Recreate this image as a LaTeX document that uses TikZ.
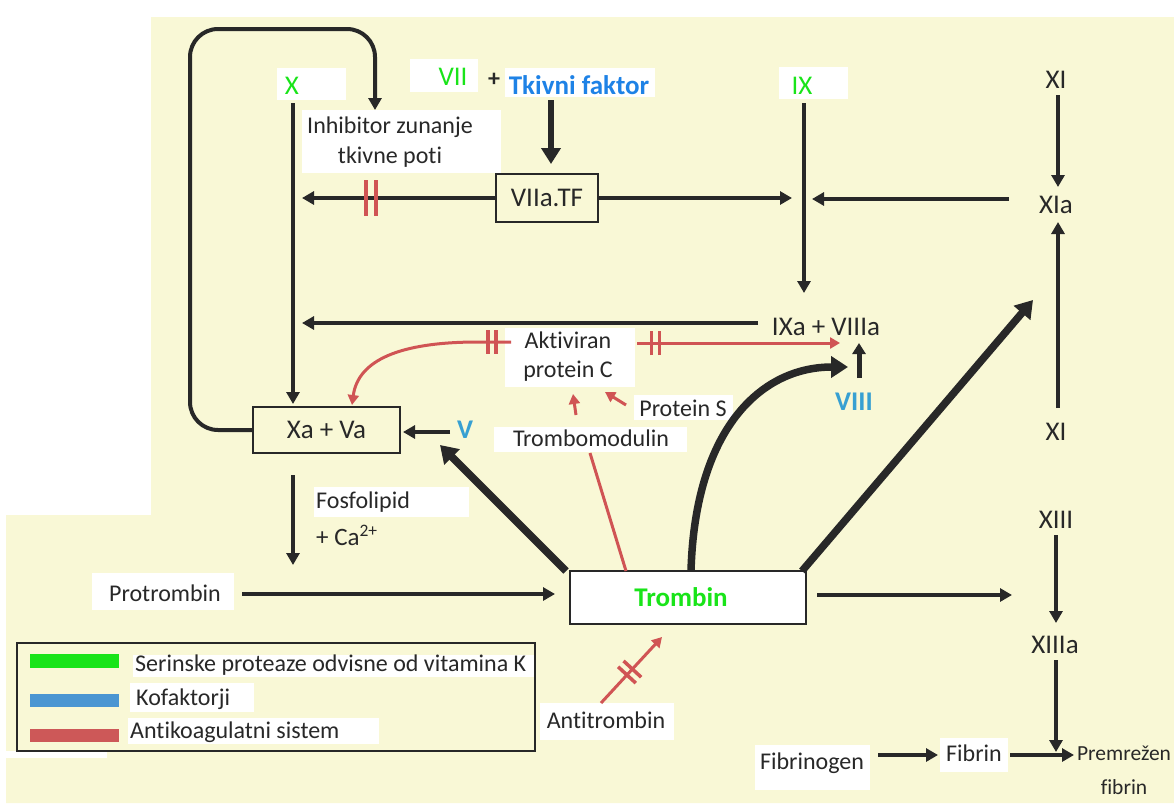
\documentclass[tikz,border=0pt]{standalone}
\usepackage{fontspec}
\setmainfont{Carlito}[Ligatures={NoCommon}]
\usetikzlibrary{arrows.meta,decorations.markings}
\definecolor{bgy}{RGB}{249,248,214}
\definecolor{ink}{RGB}{40,40,40}
\definecolor{vkg}{RGB}{25,228,25}
\definecolor{tfb}{RGB}{30,130,230}
\definecolor{cob}{RGB}{55,160,210}
\definecolor{acr}{RGB}{208,84,84}
\definecolor{legb}{RGB}{75,150,210}
\definecolor{legr}{RGB}{205,88,88}
\begin{document}
\begin{tikzpicture}[x=1pt,y=-1pt,
  every node/.style={inner sep=0pt, text=ink, font=\fontsize{24}{30}\selectfont},
  big/.style={font=\fontsize{27}{32}\selectfont},
  bigb/.style={font=\fontsize{27}{32}\selectfont\bfseries},
  arr/.style={draw=ink, line width=4pt, -{Triangle[length=12pt,width=13pt]}},
  tarr/.style={draw=ink, line width=7.5pt, -{Triangle[length=17pt,width=21pt]}},
  rarr/.style={draw=acr, line width=3pt, -{Triangle[length=10pt,width=11pt]}},
  rline/.style={draw=acr, line width=3pt},
  dbar/.style={postaction={decorate}, decoration={markings, mark=at position #1 with {\draw[-, acr, line width=3.5pt] (-4pt,-12pt) -- (-4pt,12pt) (4pt,-12pt) -- (4pt,12pt);}}},
  dbarL/.style={postaction={decorate}, decoration={markings, mark=at position #1 with {\draw[-, acr, line width=4pt] (-5pt,-18pt) -- (-5pt,18pt) (5pt,-18pt) -- (5pt,18pt);}}},
  fbox/.style={draw=ink, line width=2pt, fill=bgy}
]
\useasboundingbox (0,0) rectangle (1174,803);
% background
\fill[white] (0,0) rectangle (1174,803);
\fill[bgy] (151,17) -- (1174,17) -- (1174,803) -- (6,803) -- (6,515) -- (151,515) -- cycle;
\fill[white] (0,751) rectangle (107,758);
% white label patches
\fill[white] (277,68) rectangle (346,100);
\fill[white] (410,59) rectangle (478,92);
\fill[white] (505,68) rectangle (655,97);
\fill[white] (779,67) rectangle (848,99);
\fill[white] (302,110) rectangle (501,173);
\fill[white] (505,328) rectangle (635,387);
\fill[white] (634,395) rectangle (733,420);
\fill[white] (494,427) rectangle (687,452);
\fill[white] (314,487) rectangle (469,517);
\fill[white] (92,573) rectangle (234,610);
\fill[white] (540,703) rectangle (674,740);
\fill[white] (755,745) rectangle (870,790);
\fill[white] (940,738) rectangle (1008,772);

% boxes
\node[fbox, minimum width=147pt, minimum height=46pt, big] (nXaVa) at (326.5,430) {Xa + Va};
\node[fbox, minimum width=102pt, minimum height=48pt, big] (nVTF) at (547,198) {VIIa.TF};
\node[draw=ink, line width=2pt, fill=white, minimum width=236pt, minimum height=53pt] (nTromb) at (688,597.5) {};
\node[bigb, text=vkg] (nTrombT) at (681,597) {Trombin};

% labels
\node[big, text=vkg] (nX) at (292,86) {X};
\node[big, text=vkg] (nVII) at (453,77) {VII};
\node[font=\fontsize{24}{30}\selectfont\bfseries] (nPlus) at (494,80) {+};
\node[bigb, text=tfb] (nTkf) at (579,85) {Tkivni faktor};
\node[align=center] (nInh) at (390,142) {Inhibitor zunanje\\tkivne poti};
\node[big, text=vkg] (nIX) at (802,86) {IX};
\node[big] (nXI) at (1056,80) {XI};
\node[big] (nXIa) at (1056,205) {XIa};
\node[big] (nXIb) at (1056,432) {XI};
\node[big] (nIXa) at (826,327) {IXa + VIIIa};
\node[bigb, text=cob] (nVIII) at (854,402) {VIII};
\node[align=center, font=\fontsize{24}{29}\selectfont] (nAPC) at (568,357) {Aktiviran\\protein C};
\node (nPS) at (683,408) {Protein S};
\node (nTM) at (591,438) {Trombomodulin};
\node[bigb, text=cob] (nV) at (465,430) {V};
\node[anchor=west] (nFos) at (316,502) {Fosfolipid};
\node[anchor=west, font=\fontsize{25}{30}\selectfont] (nCa) at (316,535) {+ Ca\textsuperscript{2+}};
\node (nProt) at (165,593) {Protrombin};
\node (nAT) at (606,720) {Antitrombin};
\node (nFg) at (812,763) {Fibrinogen};
\node (nFb) at (974,753) {Fibrin};
\node[align=center, font=\fontsize{21.5}{34}\selectfont] (nPF) at (1124,770) {Premrežen\\fibrin};
\node[big] (nXIII) at (1056,520) {XIII};
\node[big] (nXIIIa) at (1055,645) {XIIIa};

% coordinates for free ends
\coordinate (cInh) at (375,110);
\coordinate (cXtop) at (293,103);
\coordinate (cXbot) at (293,404);
\coordinate (cTFtop) at (551,100);
\coordinate (cTFbot) at (551,164);
\coordinate (cL1) at (302,198);
\coordinate (cR1) at (792,198);
\coordinate (cIXtop) at (804,103);
\coordinate (cIXbot) at (804,293);
\coordinate (cXIaL) at (1009,199);
\coordinate (cXIaR) at (812,199);
\coordinate (cIXaL) at (758,323);
\coordinate (cL2) at (302,323);
\coordinate (cXIt) at (1058,95);
\coordinate (cXIab) at (1058,187);
\coordinate (cXIbt) at (1058,408);
\coordinate (cXIat) at (1058,222);
\coordinate (cVIIIb) at (859,378);
\coordinate (cVIIIt) at (859,343);
\coordinate (cAPCl) at (511,342);
\coordinate (cXaTop) at (352,405);
\coordinate (cAPCr) at (637,343);
\coordinate (cIXaRed) at (840,343);
\coordinate (cPSs) at (626,405);
\coordinate (cPSt) at (605,392);
\coordinate (cTMs) at (576,415);
\coordinate (cTMt) at (573,394);
\coordinate (cTMb) at (590,453);
\coordinate (cTrTop) at (626,571);
\coordinate (cVs) at (450,432);
\coordinate (cVt) at (403,432);
\coordinate (cTrL) at (566,571);
\coordinate (cXaBR) at (440,445);
\coordinate (cTrM) at (691,571);
\coordinate (cVIIIL) at (848,367);
\coordinate (cTrR) at (802,571);
\coordinate (cXIarea) at (1033,300);
\coordinate (cFosT) at (293,475);
\coordinate (cFosB) at (293,565);
\coordinate (cPrS) at (242,594);
\coordinate (cPrT) at (555,594);
\coordinate (cTrE) at (817,595);
\coordinate (cXIIIaR) at (1012,595);
\coordinate (cXIIIs) at (1056,535);
\coordinate (cXIIIt) at (1056,623);
\coordinate (cXIIIas) at (1056,660);
\coordinate (cXIIIat) at (1056,752);
\coordinate (cFgS) at (878,755);
\coordinate (cFgT) at (938,755);
\coordinate (cFbS) at (1010,755);
\coordinate (cFbT) at (1074,755);
\coordinate (cATs) at (601,703);
\coordinate (cATt) at (662,637);

% connectors
\draw[arr, rounded corners=28pt] (nXaVa.west) -| (190,29) -| (cInh);
\draw[arr] (cXtop) -- (cXbot);
\draw[ink, line width=6pt, -{Triangle[length=16pt,width=19pt]}] (cTFtop) -- (cTFbot);
\draw[arr, dbarL=0.64] (nVTF.west) -- (cL1);
\draw[arr] (nVTF.east) -- (cR1);
\draw[arr] (cIXtop) -- (cIXbot);
\draw[arr] (cXIaL) -- (cXIaR);
\draw[arr] (cXIt) -- (cXIab);
\draw[arr] (cXIbt) -- (cXIat);
\draw[arr] (cIXaL) -- (cL2);
\draw[ink, line width=5pt, -{Triangle[length=11pt,width=13pt]}] (cVIIIb) -- (cVIIIt);
\draw[rarr, dbar=0.1] (cAPCl) -- (478,342) .. controls (400,342) and (358,360) .. (cXaTop);
\draw[rarr, dbar=0.09] (cAPCr) -- (cIXaRed);
\draw[rarr] (cPSs) -- (cPSt);
\draw[rarr] (cTMs) -- (cTMt);
\draw[rline] (cTMb) -- (cTrTop);
\draw[arr] (cVs) -- (cVt);
\draw[tarr] (cTrL) -- (cXaBR);
\draw[tarr] (cTrM) .. controls (695,430) and (760,367) .. (cVIIIL);
\draw[tarr] (cTrR) -- (cXIarea);
\draw[arr] (cFosT) -- (cFosB);
\draw[arr] (cPrS) -- (cPrT);
\draw[arr] (cTrE) -- (cXIIIaR);
\draw[arr] (cXIIIs) -- (cXIIIt);
\draw[arr] (cXIIIas) -- (cXIIIat);
\draw[arr] (cFgS) -- (cFgT);
\draw[arr] (cFbS) -- (cFbT);
\draw[rarr, dbar=0.47] (cATs) -- (cATt);

% legend
\node[draw=ink, line width=1.5pt, minimum width=518pt, minimum height=108pt] (nLeg) at (276,697) {};
\fill[white] (133,655) rectangle (534,677);
\fill[white] (130,683) rectangle (254,712);
\fill[white] (128,718) rectangle (379,744);
\fill[vkg] (30,654) rectangle (119,668);
\fill[legb] (30,694) rectangle (119,707);
\fill[legr] (30,729) rectangle (119,742);
\node[anchor=west] (nL1) at (135,665) {Serinske proteaze odvisne od vitamina K};
\node[anchor=west] (nL2) at (136,699) {Kofaktorji};
\node[anchor=west] (nL3) at (130,732) {Antikoagulatni sistem};
\end{tikzpicture}
\end{document}
